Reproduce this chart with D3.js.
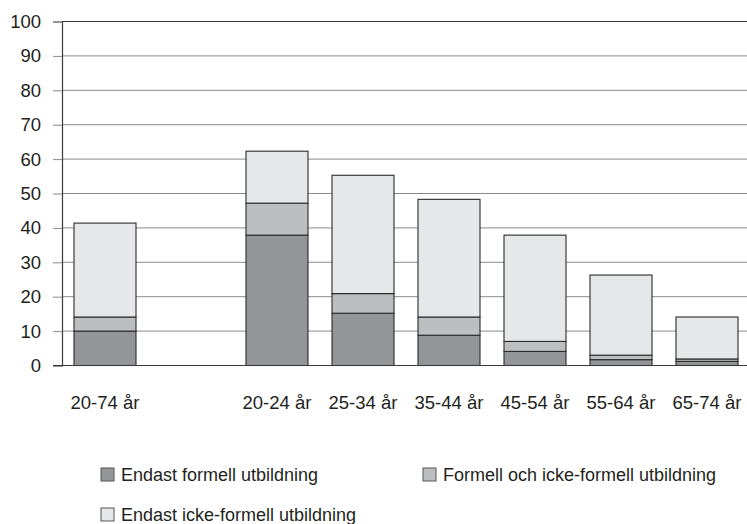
<!DOCTYPE html>
<html lang="sv">
<head>
<meta charset="utf-8">
<title>stapeldiagram</title>
<script src="https://cdn.jsdelivr.net/npm/d3@7"></script>
<style>
  body { margin: 0; background: #fff; }
  text { font-family: "Liberation Sans", Arial, sans-serif; fill: #231f20; }
</style>
</head>
<body>
<div id="chart"></div>
<script>
// data
const ageGroups = ["20-74 år", "20-24 år", "25-34 år", "35-44 år", "45-54 år", "55-64 år", "65-74 år"];
const formal = [10.0, 37.9, 15.2, 8.8, 4.1, 1.7, 1.2];       // Endast formell utbildning
const both = [4.1, 9.3, 5.7, 5.3, 2.9, 1.3, 0.7];            // Formell och icke-formell utbildning
const nonFormal = [27.3, 15.1, 34.4, 34.2, 30.9, 23.3, 12.2]; // Endast icke-formell utbildning
const seriesNames = ["Endast formell utbildning", "Formell och icke-formell utbildning", "Endast icke-formell utbildning"];
const yTicks = [0, 10, 20, 30, 40, 50, 60, 70, 80, 90, 100];

const width = 747, height = 524;
const margin = {top: 21.5, right: 0, bottom: 158.5, left: 62};
const colors = ["#939598", "#bcbec0", "#e6e7e8"];

// tabell för stack
const table = ageGroups.map((g, i) => ({group: g, s0: formal[i], s1: both[i], s2: nonFormal[i]}));
const stack = d3.stack().keys(["s0", "s1", "s2"])(table);

// en tom plats efter totalen
const domain = [ageGroups[0], "_gap", ...ageGroups.slice(1)];

const x = d3.scaleBand()
    .domain(domain)
    .range([margin.left, margin.left + 86 * domain.length])
    .paddingInner(0.279)
    .paddingOuter(0.1395);

const y = d3.scaleLinear()
    .domain([0, 100])
    .range([height - margin.bottom, margin.top]);

const svg = d3.select("#chart").append("svg")
    .attr("width", width)
    .attr("height", height);

// rutnät
svg.append("g")
  .selectAll("line")
  .data(yTicks.filter(d => d > 0))
  .join("line")
    .attr("x1", margin.left)
    .attr("x2", width)
    .attr("y1", d => y(d))
    .attr("y2", d => y(d))
    .attr("stroke", d => d === 100 ? "#3a3a3a" : "#8a8a8a")
    .attr("stroke-width", 1);

// y-axel
svg.append("g")
    .attr("transform", `translate(${margin.left},0)`)
    .call(d3.axisLeft(y).tickValues(yTicks).tickSize(9).tickPadding(12))
    .call(g => g.select(".domain").attr("stroke", "#3a3a3a").attr("stroke-width", 1.2))
    .call(g => g.selectAll(".tick line").attr("stroke", "#8a8a8a"))
    .call(g => g.selectAll(".tick text")
        .attr("font-size", 18.5)
        .attr("font-family", "Liberation Sans, Arial, sans-serif")
        .attr("fill", "#231f20"));

// staplar
svg.append("g")
  .selectAll("g")
  .data(stack)
  .join("g")
    .attr("fill", (d, i) => colors[i])
  .selectAll("rect")
  .data(d => d)
  .join("rect")
    .attr("x", d => x(d.data.group))
    .attr("y", d => y(d[1]))
    .attr("width", x.bandwidth())
    .attr("height", d => y(d[0]) - y(d[1]))
    .attr("stroke", "#2b2b2b")
    .attr("stroke-width", 1.1);

// x-axel linje
svg.append("line")
    .attr("x1", 53)
    .attr("x2", width)
    .attr("y1", y(0))
    .attr("y2", y(0))
    .attr("stroke", "#3a3a3a")
    .attr("stroke-width", 1.2);

// kategorier
svg.append("g")
  .selectAll("text")
  .data(ageGroups)
  .join("text")
    .attr("x", d => x(d) + x.bandwidth() / 2)
    .attr("y", 409)
    .attr("text-anchor", "middle")
    .attr("font-size", 18.5)
    .text(d => d);

// legend
const legendPos = [[101, 468], [423, 468], [101, 508]];
const legend = svg.append("g")
  .selectAll("g")
  .data(seriesNames)
  .join("g")
    .attr("transform", (d, i) => `translate(${legendPos[i][0]},${legendPos[i][1]})`);

legend.append("rect")
    .attr("width", 13)
    .attr("height", 13)
    .attr("fill", (d, i) => colors[i])
    .attr("stroke", "#555")
    .attr("stroke-width", 1);

legend.append("text")
    .attr("x", 20)
    .attr("y", 13)
    .attr("font-size", 18)
    .text(d => d);
</script>
</body>
</html>
